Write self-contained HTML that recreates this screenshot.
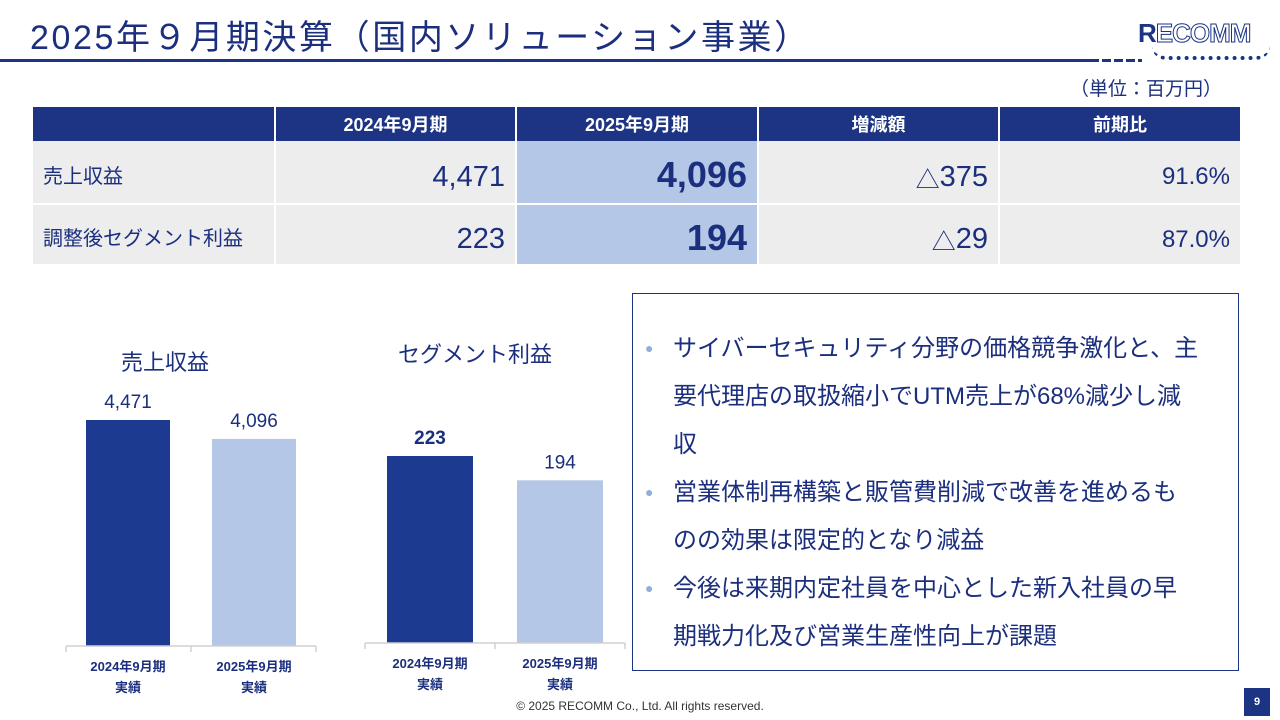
<!DOCTYPE html>
<html><head><meta charset="utf-8">
<style>
*{margin:0;padding:0;box-sizing:border-box}
body{width:1280px;height:720px;position:relative;background:#fff;font-family:"Liberation Sans","Noto Sans CJK JP",sans-serif;color:#1a2a6c;overflow:hidden}
.abs{position:absolute}
#title{left:30px;top:10px;font-size:34px;color:#1b2f7e;white-space:nowrap;letter-spacing:2.6px}
#tbl{left:33px;top:107px;width:1207px}
.cell{position:absolute;display:flex;align-items:center}
.hd{background:#1c3483;color:#fff;font-weight:bold;font-size:18px;justify-content:center;height:34px;top:0}
.bd{background:#ededed;font-size:29px;color:#1b2f7e;justify-content:flex-end;padding-right:10px;padding-top:10px}
.hl{background:#b4c7e7;font-weight:bold;font-size:36px;padding-top:6px}
.lab{font-size:20px;justify-content:flex-start;padding-left:10px;padding-top:4px}
.tri{font-size:24px}
#box{left:632px;top:293px;width:607px;height:378px;border:1px solid #1c3483}
.bl{position:absolute;left:40px;font-size:24px;color:#1b2f7e;white-space:nowrap}
.dot{position:absolute;left:12px;font-size:14px;color:#8fb0d8}
svg text{font-family:"Liberation Sans","Noto Sans CJK JP",sans-serif}
</style></head><body>
<div id="title" class="abs">2025年９月期決算（国内ソリューション事業）</div>
<div class="abs" style="left:0;top:59px;width:1090px;height:3px;background:#1c3483"></div>
<div class="abs" style="left:1090px;top:59px;width:52px;height:3px;background:repeating-linear-gradient(90deg,#1c3483 0 9px,transparent 9px 12px)"></div>
<div class="abs" style="left:1138px;top:18px;font-size:26px;font-weight:bold;color:#1c3483;letter-spacing:-1px">R<span style="color:#fff;-webkit-text-stroke:1px #1c3483">ECOMM</span></div>
<div class="abs" style="left:1152px;top:46px;width:118px;height:14px;border-bottom:4px dotted #1c3483;border-radius:0 0 60px 60px"></div>
<div class="abs" style="left:1070px;top:74px;font-size:19px;color:#1b2f7e">（単位：百万円）</div>

<div id="tbl" class="abs">
<div class="cell hd" style="left:0;width:241px"></div>
<div class="cell hd" style="left:243px;width:239px">2024年9月期</div>
<div class="cell hd" style="left:484px;width:240px">2025年9月期</div>
<div class="cell hd" style="left:726px;width:239px">増減額</div>
<div class="cell hd" style="left:967px;width:240px">前期比</div>

<div class="cell bd lab" style="left:0;top:34px;width:241px;height:62px">売上収益</div>
<div class="cell bd" style="left:243px;top:34px;width:239px;height:62px">4,471</div>
<div class="cell bd hl" style="left:484px;top:34px;width:240px;height:62px">4,096</div>
<div class="cell bd" style="left:726px;top:34px;width:239px;height:62px"><span class="tri">△</span>375</div>
<div class="cell bd" style="left:967px;top:34px;width:240px;height:62px;font-size:24px">91.6%</div>

<div class="cell bd lab" style="left:0;top:98px;width:241px;height:59px">調整後セグメント利益</div>
<div class="cell bd" style="left:243px;top:98px;width:239px;height:59px">223</div>
<div class="cell bd hl" style="left:484px;top:98px;width:240px;height:59px">194</div>
<div class="cell bd" style="left:726px;top:98px;width:239px;height:59px"><span class="tri">△</span>29</div>
<div class="cell bd" style="left:967px;top:98px;width:240px;height:59px;font-size:24px">87.0%</div>
</div>

<svg class="abs" style="left:0;top:0" width="640" height="720" id="charts"></svg>

<div id="box" class="abs">
<div class="dot" style="top:46px">●</div>
<div class="bl" style="top:34px">サイバーセキュリティ分野の価格競争激化と、主</div>
<div class="bl" style="top:82px">要代理店の取扱縮小でUTM売上が68%減少し減</div>
<div class="bl" style="top:130px">収</div>
<div class="dot" style="top:190px">●</div>
<div class="bl" style="top:178px">営業体制再構築と販管費削減で改善を進めるも</div>
<div class="bl" style="top:226px">のの効果は限定的となり減益</div>
<div class="dot" style="top:286px">●</div>
<div class="bl" style="top:274px">今後は来期内定社員を中心とした新入社員の早</div>
<div class="bl" style="top:322px">期戦力化及び営業生産性向上が課題</div>
</div>

<div class="abs" style="left:0;width:1280px;top:699px;text-align:center;font-size:12px;color:#333">© 2025 RECOMM Co., Ltd. All rights reserved.</div>
<div class="abs" style="left:1244px;top:688px;width:26px;height:28px;background:#1c3483;color:#fff;font-size:11px;font-weight:bold;text-align:center;line-height:28px">9</div>

<script>
const categories = ["2024年9月期", "2025年9月期"];
const revenueValues = [4471, 4096];
const profitValues = [223, 194];
const chartTitles = ["売上収益", "セグメント利益"];

const svg = document.getElementById('charts');
const NS = 'http://www.w3.org/2000/svg';
const colors = ['#1c3a8f', '#b4c7e7'];
function mk(tag, attrs) { const e = document.createElementNS(NS, tag); for (const k in attrs) e.setAttribute(k, attrs[k]); svg.appendChild(e); return e; }

function drawChart(cfg, values, title, key) {
  const maxV = Math.max(...values);
  const y = v => cfg.base - v / maxV * cfg.maxH;
  const slot = (cfg.x1 - cfg.x0) / values.length;
  const t = mk('text', {x: cfg.titleX, y: cfg.titleY, 'font-size': 22, fill: '#1b2f7e', 'text-anchor': 'middle'});
  t.textContent = title;
  
  
  values.forEach((v, i) => {
    const cx = cfg.cx0 + cfg.pitch * i;
    const r = mk('rect', {x: cx - cfg.bw / 2, y: y(v), width: cfg.bw, height: cfg.base - y(v), fill: colors[i]});
    
    
    const lb = mk('text', {x: cx, y: y(v) - 12, 'font-size': 19, fill: '#1b2f7e', 'text-anchor': 'middle', 'font-weight': (key === 'profit' && i === 0) ? 'bold' : 'normal'});
    lb.textContent = v.toLocaleString('en-US');
    
    
    const c1 = mk('text', {x: cx, y: cfg.base + 25, 'font-size': 13, 'font-weight': 'bold', fill: '#1b2f7e', 'text-anchor': 'middle'});
    c1.textContent = categories[i];
    
    
    const c2 = mk('text', {x: cx, y: cfg.base + 46, 'font-size': 13, 'font-weight': 'bold', fill: '#1b2f7e', 'text-anchor': 'middle'});
    c2.textContent = '実績';
    
    
  });
  const ax = mk('line', {x1: cfg.x0, x2: cfg.x1, y1: cfg.base, y2: cfg.base, stroke: '#d0d0d0', 'stroke-width': 1.5});
  
  
  for (let i = 0; i <= values.length; i++) {
    const tx = cfg.x0 + slot * i;
    const tk = mk('line', {x1: tx, x2: tx, y1: cfg.base, y2: cfg.base + 6, stroke: '#d0d0d0', 'stroke-width': 1.5});
    
    
  }
}
drawChart({x0: 66, x1: 316, cx0: 128, pitch: 126, base: 646, maxH: 226, bw: 84, titleX: 165, titleY: 370}, revenueValues, chartTitles[0], 'revenue');
drawChart({x0: 365, x1: 625, cx0: 430, pitch: 130, base: 643, maxH: 187, bw: 86, titleX: 475, titleY: 362}, profitValues, chartTitles[1], 'profit');
</script>
</body></html>
